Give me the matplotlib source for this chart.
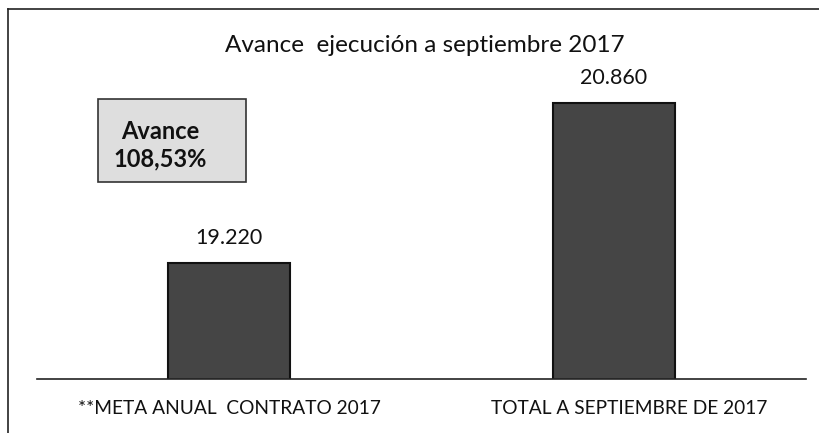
import matplotlib
matplotlib.use("Agg")
import matplotlib.pyplot as plt
from matplotlib.patches import Rectangle

categories = ["**META ANUAL  CONTRATO 2017", "TOTAL A SEPTIEMBRE DE 2017"]
values = [19220, 20860]
value_labels = ["19.220", "20.860"]
title = "Avance  ejecución a septiembre 2017"
box_text = "Avance\n108,53%"

plt.rcParams['font.family'] = ['Lato', 'DejaVu Sans']

W, H = 819, 433
fig = plt.figure(figsize=(W / 100, H / 100), dpi=100)
fig.patch.set_facecolor("white")

# outer frame (left and top edges visible in scan)
fig.add_artist(plt.Line2D([8 / W, 8 / W], [0, 1 - 9 / H], color="#222222", lw=1.2))
fig.add_artist(plt.Line2D([8 / W, 1], [1 - 9 / H, 1 - 9 / H], color="#222222", lw=1.2))

ax_left, ax_right = 37 / W, 806 / W
ax_bottom, ax_top = 1 - 379 / H, 1 - 60 / H
ax = fig.add_axes([ax_left, ax_bottom, ax_right - ax_left, ax_top - ax_bottom])
ax.set_facecolor("none")

x = [0, 1]
ax.bar(x, values, width=0.317, color="#454545", edgecolor="#111111", linewidth=1.5)
ax.set_xlim(-0.5, 1.5)
ax.set_ylim(18030, 21300)

for xi, v, lab in zip(x, values, value_labels):
    ax.annotate(lab, (xi, v), xytext=(0, 11), textcoords="offset points",
                ha="center", va="bottom", fontsize=15.5, color="#111111")

for s in ["top", "right", "left"]:
    ax.spines[s].set_visible(False)
ax.spines["bottom"].set_color("#222222")
ax.spines["bottom"].set_linewidth(1.2)
ax.set_yticks([])
ax.set_xticks(x)
ax.set_xticklabels([])
ax.tick_params(axis="x", length=0)

label_offsets = [0, 11]  # points, as in the scan the second label sits slightly right
for xi, lab, off in zip(x, categories, label_offsets):
    ax.annotate(lab, (xi, 0), xycoords=("data", "axes fraction"), xytext=(off, -21),
                textcoords="offset points", ha="center", va="center",
                fontsize=13.8, color="#111111")

fig.text(425 / W, 1 - 46 / H, title, ha="center", va="center", fontsize=17.5, color="#111111")

# annotation box
bx0, bx1, by0, by1 = 98, 246, 99, 182
fig.add_artist(Rectangle((bx0 / W, 1 - by1 / H), (bx1 - bx0) / W, (by1 - by0) / H,
                         transform=fig.transFigure, facecolor="#dedede",
                         edgecolor="#333333", linewidth=1.2))
fig.text(160 / W, 1 - 145 / H, box_text, ha="center", va="center", fontsize=17,
         fontweight="bold", color="#111111", linespacing=1.25)

fig.savefig("out.png", dpi=100)
